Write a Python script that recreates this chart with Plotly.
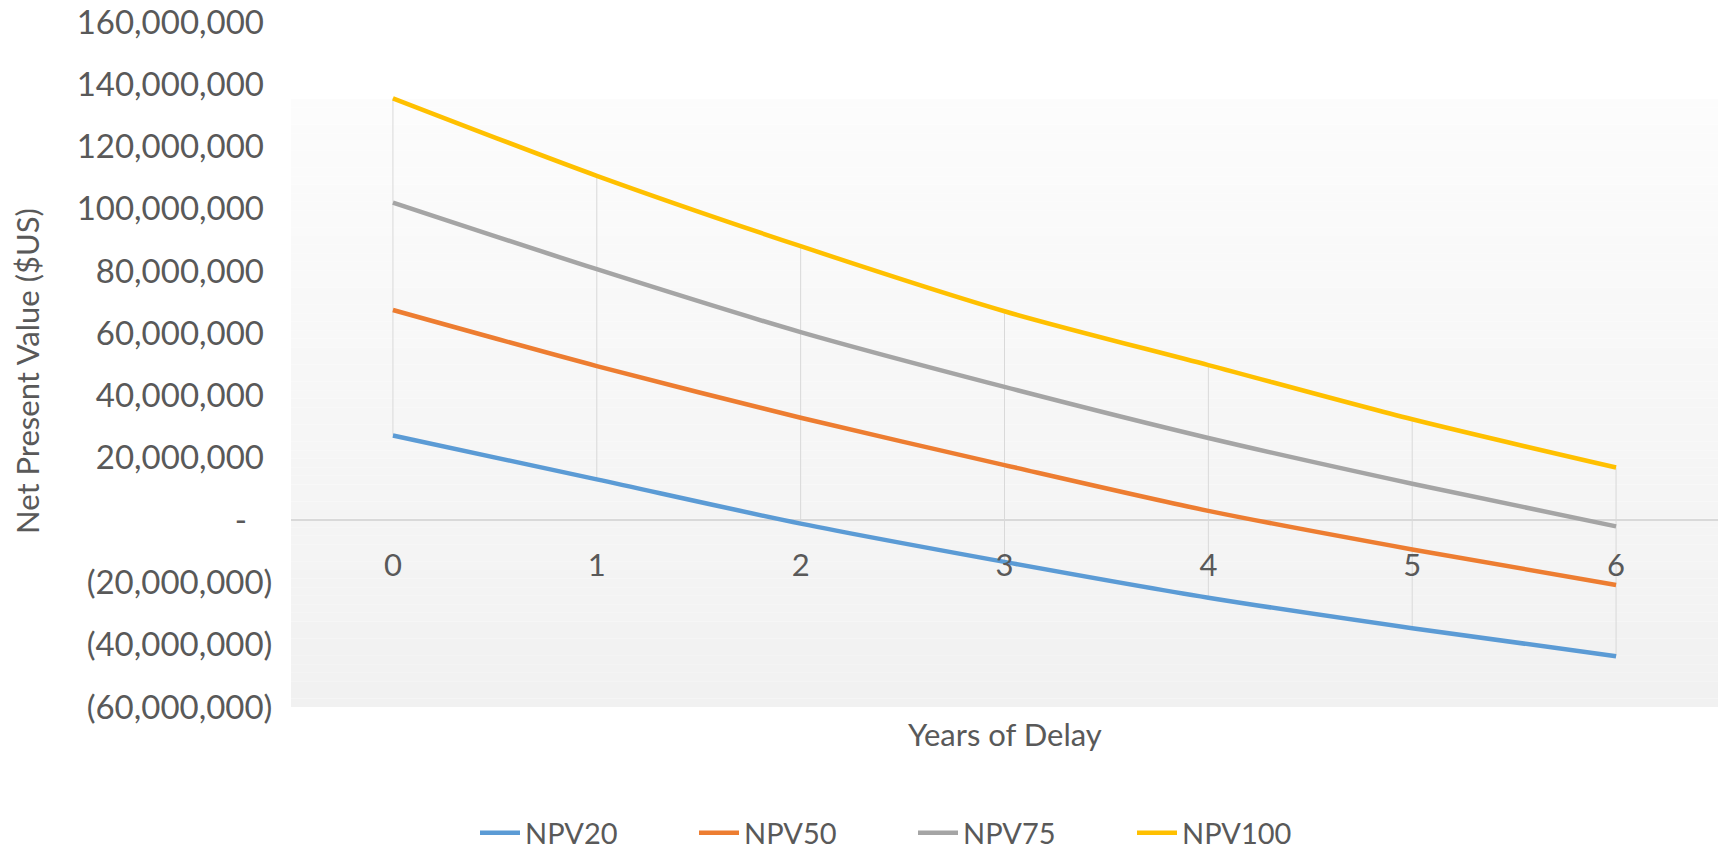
import plotly.graph_objects as go

years = [0, 1, 2, 3, 4, 5, 6]
npv20 = [27.2e6, 13.1e6, -1.1e6, -13.4e6, -24.9e6, -34.7e6, -43.7e6]
npv50 = [67.5e6, 49.5e6, 32.9e6, 17.7e6, 3.0e6, -9.4e6, -20.8e6]
npv75 = [102.0e6, 80.6e6, 60.4e6, 42.8e6, 26.4e6, 11.7e6, -2.0e6]
npv100 = [135.5e6, 110.6e6, 88.0e6, 67.1e6, 49.8e6, 32.4e6, 16.9e6]

series_names = ["NPV20", "NPV50", "NPV75", "NPV100"]
series_values = [npv20, npv50, npv75, npv100]
series_colors = ["#5B9BD5", "#ED7D31", "#A5A5A5", "#FFC000"]

y_tickvals = [-60e6, -40e6, -20e6, 0, 20e6, 40e6, 60e6, 80e6, 100e6, 120e6, 140e6, 160e6]
NB = "\u00a0"


def fmt(v):
    if v == 0:
        return "-" + NB * 3
    if v < 0:
        return "({:,.0f})".format(-v)
    return "{:,.0f}".format(v) + NB


y_ticktext = [fmt(v) for v in y_tickvals]
Y_MIN, Y_MAX = -60e6, 160e6

FONT = "Lato"
TXT = "#595959"

W, H = 1723, 849
PL, PR, PT, PB = 291, 1718, 22, 707
PW, PH = PR - PL, PB - PT


def px(xp):
    return (xp - PL) / PW


def py(yp):
    return (PB - yp) / PH


fig = go.Figure()

# high-low lines (max to min per category)
hl_x, hl_y = [], []
for i, x in enumerate(years):
    vals = [s[i] for s in series_values]
    hl_x += [x, x, None]
    hl_y += [max(vals), min(vals), None]
fig.add_trace(go.Scatter(x=hl_x, y=hl_y, mode="lines",
                         line=dict(color="#d9d9d9", width=1),
                         showlegend=False, hoverinfo="skip"))

for name, vals, col in zip(series_names, series_values, series_colors):
    fig.add_trace(go.Scatter(x=years, y=vals, name=name, mode="lines",
                             line=dict(color=col, width=4.5, shape="spline", smoothing=0.8)))

# gradient plot-area background
shapes = []
N = 80
top_white = 0.89
c_top = 252
c_bot = 241
for k in range(N):
    y0 = k / N
    y1 = (k + 1) / N
    ym = (y0 + y1) / 2
    if ym >= top_white:
        c = 255
    else:
        t = ym / top_white
        c = round(c_bot + (c_top - c_bot) * t)
    shapes.append(dict(type="rect", xref="paper", yref="paper", x0=0, x1=1, y0=y0, y1=y1,
                       fillcolor=f"rgb({c},{c},{c})", line=dict(width=0), layer="below"))

fig.update_layout(
    width=W, height=H,
    margin=dict(l=PL, r=W - PR, t=PT, b=H - PB, autoexpand=False),
    paper_bgcolor="white", plot_bgcolor="white",
    font=dict(family=FONT, color=TXT, size=28),
    shapes=shapes,
    showlegend=True,
    legend=dict(orientation="h", x=px(475), xanchor="left",
                y=py(833), yanchor="middle",
                font=dict(size=29, color=TXT, family=FONT),
                entrywidth=164, entrywidthmode="pixels", itemwidth=40,
                bgcolor="rgba(0,0,0,0)"),
    xaxis=dict(range=[-0.5, 6.5], tickvals=years, ticktext=[str(y) for y in years],
               showgrid=False, zeroline=False, showline=False, automargin=False,
               anchor="free", position=(0 - Y_MIN) / (Y_MAX - Y_MIN),
               ticks="outside", ticklen=18, tickcolor="rgba(0,0,0,0)",
               ticklabeloverflow="allow",
               tickfont=dict(size=31, color=TXT, family=FONT)),
    yaxis=dict(range=[Y_MIN, Y_MAX], tickvals=y_tickvals, ticktext=y_ticktext,
               showgrid=False, zeroline=True, zerolinecolor="#d9d9d9", zerolinewidth=1.5,
               showline=False, automargin=False, ticks="outside", ticklen=11,
               tickcolor="rgba(0,0,0,0)", ticklabeloverflow="allow",
               tickfont=dict(size=33, color=TXT, family=FONT)),
    annotations=[
        dict(text="Years of Delay", xref="paper", yref="paper", x=px(1005),
             y=py(734), xanchor="center", yanchor="middle", showarrow=False,
             font=dict(size=31, color=TXT, family=FONT)),
        dict(text="Net Present Value ($US)", xref="paper", yref="paper", x=px(27),
             y=py(371), xanchor="center", yanchor="middle", textangle=-90,
             showarrow=False, font=dict(size=31, color=TXT, family=FONT)),
    ],
)

fig.write_html("out.html", config={"displayModeBar": False},
               post_script="document.body.style.margin='0px';")
